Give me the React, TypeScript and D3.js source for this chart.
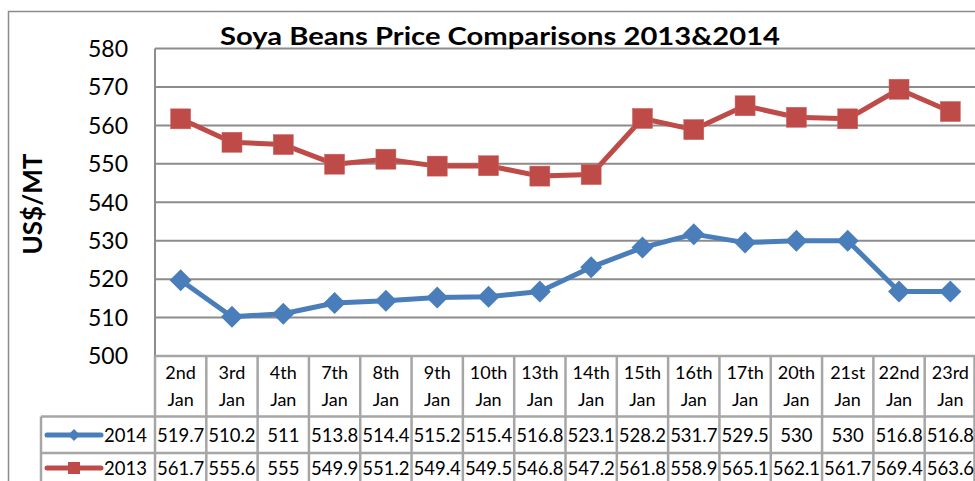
import React from "react";
import * as d3 from "d3";

const categories = ["2nd Jan","3rd Jan","4th Jan","7th Jan","8th Jan","9th Jan","10th Jan","13th Jan","14th Jan","15th Jan","16th Jan","17th Jan","20th Jan","21st Jan","22nd Jan","23rd Jan"];
const series2014 = [519.7,510.2,511,513.8,514.4,515.2,515.4,516.8,523.1,528.2,531.7,529.5,530,530,516.8,516.8];
const series2013 = [561.7,555.6,555,549.9,551.2,549.4,549.5,546.8,547.2,561.8,558.9,565.1,562.1,561.7,569.4,563.6];
const yTicks = [500,510,520,530,540,550,560,570,580];
const seriesNames = ["2014","2013"];

const W = 975, H = 481;
const FONT = "Lato, 'Open Sans', sans-serif";
const BLUE = "#4a7ebb";
const RED = "#be4b48";
const GRID = "#8c8c8c";
const TBL = "#a6a6a6";

export default function App() {
  const plotL = 155, plotR = 976, plotT = 48.5, plotB = 356;
  const x = d3.scaleBand<string>().domain(categories).range([plotL, plotR]);
  const y = d3.scaleLinear().domain([500, 580]).range([plotB, plotT]);
  const cx = (c: string) => (x(c) as number) + x.bandwidth() / 2;
  const line = d3.line<number>().x((_, i) => cx(categories[i])).y(d => y(d));

  const headT = plotB, headB = 416.5, r1B = 453, r2B = 495;
  const legL = 41;

  const diamond = (px: number, py: number, s: number) =>
    `M${px},${py - s}L${px + s},${py}L${px},${py + s}L${px - s},${py}Z`;

  return (
    <div style={{ position: "absolute", left: 0, top: 0 }}>
      <svg width={W} height={H} style={{ display: "block", background: "#fff" }} fontFamily={FONT}>
        <rect x={8.5} y={11.5} width={W + 10} height={H + 10} fill="#fff" stroke="#8c8c8c" strokeWidth={1.5} />
        {/* gridlines */}
        {yTicks.map(t => (
          <line key={t} x1={plotL} x2={plotR} y1={y(t)} y2={y(t)} stroke={GRID} strokeWidth={2} />
        ))}
        <line x1={plotL} x2={plotL} y1={plotT} y2={plotB} stroke={GRID} strokeWidth={2} />
        {/* y tick labels */}
        {yTicks.map(t => (
          <text key={t} x={128} y={y(t)} dy="0.36em" textAnchor="end" fontSize={23} fill="#000">{t}</text>
        ))}
        {/* y title */}
        <text transform={`translate(33,204) rotate(-90)`} textAnchor="middle" dy="0.36em" fontSize={26} fontWeight="bold" fill="#000">US$/MT</text>
        {/* title */}
        <text x={220} y={45} fontSize={25} fontWeight="bold" fill="#000" textLength={560} lengthAdjust="spacingAndGlyphs">Soya Beans Price Comparisons 2013&amp;2014</text>
        {/* lines */}
        <path d={line(series2013) || ""} fill="none" stroke={RED} strokeWidth={5} strokeLinejoin="round" />
        <path d={line(series2014) || ""} fill="none" stroke={BLUE} strokeWidth={5} strokeLinejoin="round" />
        {series2013.map((v, i) => (
          <rect key={i} x={cx(categories[i]) - 10} y={y(v) - 10} width={20} height={20} fill={RED} stroke="#c9605d" strokeWidth={0.5} />
        ))}
        {series2014.map((v, i) => (
          <path key={i} d={diamond(cx(categories[i]), y(v), 11)} fill={BLUE} />
        ))}
        {/* data table */}
        <g stroke={TBL} strokeWidth={2.5} fill="none">
          <line x1={plotL} x2={plotR} y1={headT} y2={headT} />
          <line x1={legL} x2={plotR} y1={headB} y2={headB} />
          <line x1={legL} x2={plotR} y1={r1B} y2={r1B} />
          <line x1={legL} x2={legL} y1={headB} y2={r2B} />
          {categories.map((c, i) => (
            <line key={c} x1={x(c) as number} x2={x(c) as number} y1={headT} y2={r2B} />
          ))}
          <line x1={plotR - 1.5} x2={plotR - 1.5} y1={headT} y2={r2B} />
        </g>
        {categories.map(c => {
          const [a, b] = c.split(" ");
          return (
            <g key={c}>
              <text x={cx(c)} y={373} dy="0.36em" textAnchor="middle" fontSize={18} fill="#000">{a}</text>
              <text x={cx(c)} y={400} dy="0.36em" textAnchor="middle" fontSize={18} fill="#000">{b}</text>
            </g>
          );
        })}
        {[series2014, series2013].map((s, r) => (
          <g key={r}>
            {s.map((v, i) => (
              <text key={i} x={cx(categories[i])} y={r === 0 ? 435 : 468} dy="0.36em" textAnchor="middle" fontSize={18.5} fill="#000">{String(v)}</text>
            ))}
          </g>
        ))}
        {/* legend keys */}
        {seriesNames.map((n, r) => {
          const ly = r === 0 ? 435 : 468;
          const col = r === 0 ? BLUE : RED;
          return (
            <g key={n}>
              <line x1={47} x2={101} y1={ly} y2={ly} stroke={col} strokeWidth={5} strokeLinecap="round" />
              {r === 0 ? (
                <path d={diamond(74, ly, 6)} fill={col} />
              ) : (
                <rect x={68} y={ly - 6} width={12} height={12} fill={col} />
              )}
              <text x={147} y={ly} dy="0.36em" textAnchor="end" fontSize={18.5} fill="#000">{n}</text>
            </g>
          );
        })}
      </svg>
    </div>
  );
}
